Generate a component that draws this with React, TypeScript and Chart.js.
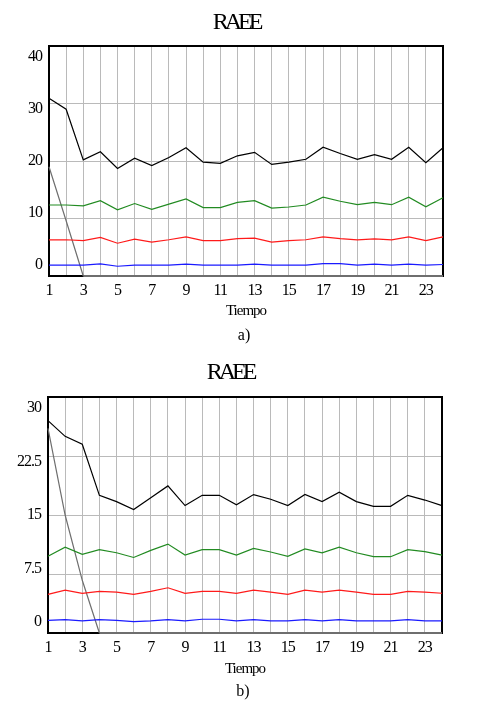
import { useEffect, useRef } from "react";
import { Chart, registerables } from "chart.js";

Chart.register(...registerables);

// eje x común a los dos gráficos
const TIEMPO = [
  "1", "2", "3", "4", "5", "6", "7", "8", "9", "10", "11", "12",
  "13", "14", "15", "16", "17", "18", "19", "20", "21", "22", "23", "24",
];

// gráfico a)
const Y_TICKS_A = ["0", "10", "20", "30", "40"];
const NEGRO_A = [30.9, 29.0, 20.2, 21.6, 18.7, 20.5, 19.2, 20.6, 22.3, 19.8, 19.6, 20.9, 21.5, 19.4, 19.8, 20.3, 22.4, 21.3, 20.3, 21.1, 20.3, 22.4, 19.7, 22.3];
const VERDE_A = [12.35, 12.35, 12.2, 13.1, 11.5, 12.6, 11.6, 12.5, 13.4, 11.9, 11.9, 12.8, 13.1, 11.8, 12.0, 12.35, 13.7, 13.0, 12.4, 12.8, 12.4, 13.7, 12.05, 13.6];
const ROJO_A = [6.3, 6.3, 6.15, 6.7, 5.7, 6.4, 5.9, 6.3, 6.8, 6.15, 6.15, 6.5, 6.6, 5.9, 6.15, 6.3, 6.8, 6.5, 6.3, 6.45, 6.3, 6.8, 6.15, 6.8];
const AZUL_A = [1.9, 1.9, 1.9, 2.1, 1.7, 1.9, 1.9, 1.9, 2.05, 1.9, 1.9, 1.9, 2.05, 1.9, 1.9, 1.9, 2.15, 2.15, 1.9, 2.05, 1.9, 2.05, 1.9, 2.0];
const GRIS_A = [19, 9.6, 0, 0, 0, 0, 0, 0, 0, 0, 0, 0, 0, 0, 0, 0, 0, 0, 0, 0, 0, 0, 0, 0];

// gráfico b)
const Y_TICKS_B = ["0", "7.5", "15", "22.5", "30"];
const NEGRO_B = [27.0, 25.0, 24.0, 17.5, 16.7, 15.7, 17.2, 18.7, 16.2, 17.5, 17.5, 16.3, 17.6, 17.0, 16.2, 17.6, 16.7, 17.9, 16.7, 16.1, 16.1, 17.5, 16.9, 16.2];
const VERDE_B = [9.75, 10.9, 10.0, 10.6, 10.2, 9.6, 10.5, 11.3, 9.9, 10.6, 10.6, 9.9, 10.75, 10.3, 9.75, 10.7, 10.2, 10.9, 10.2, 9.7, 9.7, 10.6, 10.35, 9.9];
const ROJO_B = [4.9, 5.45, 5.05, 5.3, 5.2, 4.9, 5.3, 5.75, 5.05, 5.3, 5.3, 5.05, 5.45, 5.2, 4.9, 5.45, 5.2, 5.45, 5.2, 4.9, 4.9, 5.3, 5.2, 5.05];
const AZUL_B = [1.6, 1.7, 1.55, 1.7, 1.6, 1.45, 1.55, 1.7, 1.55, 1.75, 1.75, 1.55, 1.7, 1.55, 1.55, 1.7, 1.55, 1.7, 1.55, 1.55, 1.55, 1.7, 1.55, 1.55];
const GRIS_B = [26.0, 15.0, 6.7, 0, 0, 0, 0, 0, 0, 0, 0, 0, 0, 0, 0, 0, 0, 0, 0, 0, 0, 0, 0, 0];

const FUENTE = '"Liberation Serif", "Times New Roman", serif';
const REJILLA = "#bababa";

// marco negro del área de trazado
const marco = {
  id: "marco",
  beforeDatasetsDraw(chart: any) {
    const { ctx, chartArea: a } = chart;
    ctx.save();
    ctx.strokeStyle = "#000";
    ctx.lineWidth = 2;
    ctx.strokeRect(a.left, a.top, a.right - a.left, a.bottom - a.top);
    ctx.restore();
  },
};

// texto algo comprimido, como en el original
const estrecho = {
  id: "estrecho",
  beforeDraw(chart: any) {
    chart.ctx.letterSpacing = "-1px";
  },
};

// etiquetas del eje y, desplazadas hacia el centro como en Vensim
const etiquetasY = {
  id: "etiquetasY",
  afterDraw(chart: any, _args: any, opts: any) {
    const s = chart.scales.y;
    const ctx = chart.ctx;
    const mid = (s.top + s.bottom) / 2;
    ctx.save();
    ctx.font = `16px ${FUENTE}`;
    ctx.letterSpacing = "-1px";
    ctx.fillStyle = "#000";
    ctx.textAlign = "right";
    ctx.textBaseline = "middle";
    s.ticks.forEach((t: any, i: number) => {
      const py = s.getPixelForValue(t.value);
      ctx.fillText(opts.labels[i], s.right - 7, py + (mid - py) * 0.095);
    });
    ctx.restore();
  },
};

interface PanelProps {
  negro: number[];
  verde: number[];
  rojo: number[];
  azul: number[];
  gris: number[];
  yMax: number;
  yStep: number;
  yLabels: string[];
  caption: string;
  height: number;
  padTop: number;
  padRight: number;
  yWidth: number;
  xHeight: number;
  titleBottom: number;
  titleCenter: number;
  captionCenter: number;
  captionTop: number;
}

function Panel(p: PanelProps) {
  const canvasRef = useRef<HTMLCanvasElement | null>(null);

  useEffect(() => {
    if (!canvasRef.current) return;
    const linea = (data: number[], color: string) => ({
      data,
      borderColor: color,
      borderWidth: 1.2,
      pointRadius: 0,
      tension: 0,
      fill: false,
    });

    const chart = new Chart(canvasRef.current, {
      type: "line",
      data: {
        labels: TIEMPO,
        datasets: [
          linea(p.negro, "#000000"),
          linea(p.verde, "#228b22"),
          linea(p.rojo, "#ff1a1a"),
          linea(p.azul, "#1a1aff"),
          {
            ...linea(p.gris, "#6e6e6e"),
            clip: false,
            segment: {
              borderWidth: (c: any) =>
                c.p0.parsed.y === 0 && c.p1.parsed.y === 0 ? 2 : undefined,
            },
          },
        ],
      },
      options: {
        responsive: false,
        animation: false,
        layout: { padding: { top: p.padTop, right: p.padRight, left: 0, bottom: 0 } },
        plugins: {
          legend: { display: false },
          tooltip: { enabled: false },
          etiquetasY: { labels: p.yLabels },
        } as any,
        scales: {
          x: {
            type: "category",
            offset: false,
            grid: { color: REJILLA, drawTicks: false },
            border: { display: false },
            ticks: {
              autoSkip: false,
              maxRotation: 0,
              padding: 5,
              color: "#000",
              font: { family: FUENTE, size: 16 },
              callback: (_v: any, i: number) => (i % 2 === 0 ? TIEMPO[i] : ""),
            },
            title: {
              display: true,
              text: "Tiempo",
              color: "#000",
              font: { family: FUENTE, size: 15 },
              padding: { top: 0, bottom: p.titleBottom },
            },
            afterFit: (scale: any) => {
              scale.height = p.xHeight;
            },
          },
          y: {
            min: 0,
            max: p.yMax,
            grid: { color: REJILLA, drawTicks: false },
            border: { display: false },
            ticks: { stepSize: p.yStep, display: false },
            afterFit: (scale: any) => {
              scale.width = p.yWidth;
            },
          },
        },
      } as any,
      plugins: [estrecho, marco, etiquetasY],
    });

    return () => {
      chart.destroy();
    };
  }, []);

  return (
    <div style={{ position: "relative", width: 500, height: p.height }}>
      <canvas
        ref={canvasRef}
        width={500}
        height={p.height}
        style={{ display: "block", position: "absolute", left: 0, top: 0 }}
      />
      <div
        style={{
          position: "absolute",
          top: 9,
          left: 0,
          width: p.titleCenter * 2,
          textAlign: "center",
          fontFamily: FUENTE,
          fontSize: 24,
          lineHeight: "24px",
          letterSpacing: "-4px",
          color: "#000",
        }}
      >
        RAEE
      </div>
      <div
        style={{
          position: "absolute",
          top: p.captionTop,
          left: 0,
          width: p.captionCenter * 2,
          textAlign: "center",
          fontFamily: FUENTE,
          fontSize: 16,
          lineHeight: "19px",
          color: "#000",
        }}
      >
        {p.caption}
      </div>
    </div>
  );
}

export default function App() {
  useEffect(() => {
    document.body.style.margin = "0";
  }, []);

  return (
    <div style={{ width: 500, height: 702, background: "#fff" }}>
      <Panel
        negro={NEGRO_A}
        verde={VERDE_A}
        rojo={ROJO_A}
        azul={AZUL_A}
        gris={GRIS_A}
        yMax={40}
        yStep={10}
        yLabels={Y_TICKS_A}
        caption="a)"
        height={350}
        padTop={46}
        padRight={57}
        yWidth={49}
        xHeight={74}
        titleBottom={30}
        titleCenter={236}
        captionCenter={244}
        captionTop={325}
      />
      <Panel
        negro={NEGRO_B}
        verde={VERDE_B}
        rojo={ROJO_B}
        azul={AZUL_B}
        gris={GRIS_B}
        yMax={30}
        yStep={7.5}
        yLabels={Y_TICKS_B}
        caption="b)"
        height={352}
        padTop={47}
        padRight={58}
        yWidth={48}
        xHeight={69}
        titleBottom={24}
        titleCenter={230}
        captionCenter={243}
        captionTop={331}
      />
    </div>
  );
}
